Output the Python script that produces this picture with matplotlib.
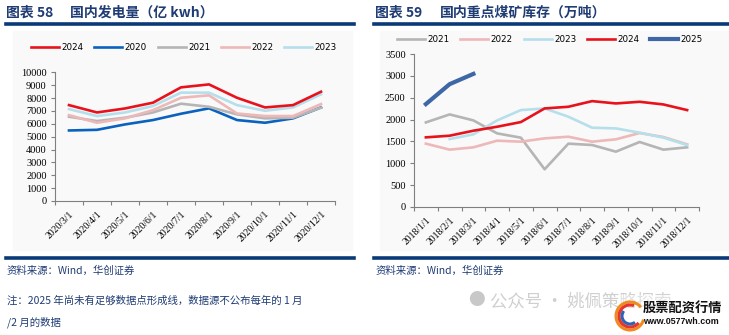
import numpy as np
import matplotlib.pyplot as plt
from matplotlib.patches import Rectangle, Arc
from matplotlib.lines import Line2D

plt.rcParams['font.family'] = ['Noto Sans CJK SC', 'DejaVu Sans']

# 国内发电量（亿 kwh）
power_months = ['2020/3/1', '2020/4/1', '2020/5/1', '2020/6/1', '2020/7/1',
                '2020/8/1', '2020/9/1', '2020/10/1', '2020/11/1', '2020/12/1']
power_2024 = [7450, 6880, 7190, 7640, 8830, 9060, 8020, 7270, 7450, 8490]
power_2020 = [5480, 5530, 5950, 6290, 6780, 7200, 6290, 6080, 6420, 7270]
power_2021 = [6550, 6210, 6470, 6880, 7560, 7320, 6730, 6420, 6470, 7250]
power_2022 = [6670, 6080, 6420, 7060, 8020, 8210, 6800, 6600, 6600, 7530]
power_2023 = [7140, 6600, 6880, 7380, 8420, 8420, 7450, 7010, 7270, 8290]

# 国内重点煤矿库存（万吨）
coal_months = ['2018/1/1', '2018/2/1', '2018/3/1', '2018/4/1', '2018/5/1', '2018/6/1',
               '2018/7/1', '2018/8/1', '2018/9/1', '2018/10/1', '2018/11/1', '2018/12/1']
coal_2021 = [1935, 2118, 1981, 1684, 1586, 863, 1449, 1418, 1266, 1487, 1312, 1365]
coal_2022 = [1449, 1312, 1365, 1517, 1494, 1570, 1608, 1494, 1548, 1692, 1601, 1433]
coal_2023 = [np.nan, 1555, 1662, 1981, 2217, 2255, 2065, 1814, 1798, 1700, 1586, 1418]
coal_2024 = [1593, 1631, 1745, 1836, 1943, 2255, 2293, 2422, 2369, 2407, 2346, 2217]
coal_2025 = [2354, 2810, 3045]

RED = '#E8121C'
BLUE = '#0A62BE'
GREY = '#B5B5B5'
PINK = '#EDB8B8'
LBLUE = '#B6DFEC'
DBLUE = '#3E67A6'
NAVY = '#0B3A78'
TXT = '#1F3C74'

W, H = 729, 335
fig = plt.figure(figsize=(W / 100, H / 100), dpi=100)


def px_axes(x0, y0, x1, y1):
    # box given in pixels, y measured from the top
    return fig.add_axes([x0 / W, 1 - y1 / H, (x1 - x0) / W, (y1 - y0) / H])


def hline(x0, x1, y, lw=2.6):
    fig.add_artist(Line2D([x0 / W, x1 / W], [1 - y / H, 1 - y / H],
                          color=NAVY, lw=lw, transform=fig.transFigure))


def style_axes(ax, n, labels, ymax, step):
    ax.set_facecolor('none')
    for s in ['top', 'right']:
        ax.spines[s].set_visible(False)
    for s in ['left', 'bottom']:
        ax.spines[s].set_color('#7F7F7F')
        ax.spines[s].set_linewidth(0.8)
    ax.set_xlim(-0.5, n - 0.5)
    ax.set_ylim(0, ymax)
    ax.set_yticks(np.arange(0, ymax + 1, step))
    ax.set_xticks(np.arange(n))
    ax.set_xticklabels(labels, rotation=45, ha='right', rotation_mode='anchor',
                       fontsize=7, family='Liberation Serif')
    ax.set_xticks(np.arange(n + 1) - 0.5, minor=True)
    ax.tick_params(axis='x', which='major', length=0, pad=6)
    ax.tick_params(axis='x', which='minor', length=3, color='#7F7F7F', width=0.8)
    ax.tick_params(axis='y', length=3, color='#7F7F7F', width=0.8, pad=3)
    for t in ax.get_yticklabels():
        t.set_family('Liberation Serif')
        t.set_fontsize(7.5)


def legend(handles, labels, cx, cy):
    fig.legend(handles, labels, ncol=5, frameon=False, loc='center',
               bbox_to_anchor=(cx / W, 1 - cy / H), handlelength=3.2,
               columnspacing=1.25, handletextpad=0.25,
               prop={'family': 'DejaVu Sans', 'size': 6.3})


# faint panel backgrounds
for x0, x1 in [(13, 352), (380, 729)]:
    fig.add_artist(Rectangle((x0 / W, 1 - 250 / H), (x1 - x0) / W, 219 / H,
                             transform=fig.transFigure, color='#F9F9F9', zorder=0))

# ---- left chart ----
ax1 = px_axes(55, 72.3, 335, 201)
x1 = np.arange(len(power_months))
lw = 1.9
ax1.plot(x1, power_2020, color=BLUE, lw=lw, label='2020', zorder=3)
ax1.plot(x1, power_2021, color=GREY, lw=lw, label='2021', zorder=3)
ax1.plot(x1, power_2022, color=PINK, lw=lw, label='2022', zorder=3)
ax1.plot(x1, power_2023, color=LBLUE, lw=lw, label='2023', zorder=3)
ax1.plot(x1, power_2024, color=RED, lw=lw, label='2024', zorder=4)
style_axes(ax1, len(power_months), power_months, 10000, 1000)
h, l = ax1.get_legend_handles_labels()
order = [4, 0, 1, 2, 3]
legend([h[i] for i in order], [l[i] for i in order], 184, 48)

# ---- right chart ----
ax2 = px_axes(414, 54, 699, 207)
x2 = np.arange(len(coal_months))
ax2.plot(x2, coal_2021, color=GREY, lw=lw, label='2021', zorder=3)
ax2.plot(x2, coal_2022, color=PINK, lw=lw, label='2022', zorder=3)
ax2.plot(x2, coal_2023, color=LBLUE, lw=lw, label='2023', zorder=3)
ax2.plot(x2, coal_2024, color=RED, lw=lw, label='2024', zorder=4)
ax2.plot(x2[:len(coal_2025)], coal_2025, color=DBLUE, lw=3.0, label='2025', zorder=5)
style_axes(ax2, len(coal_months), coal_months, 3500, 500)
legend(*ax2.get_legend_handles_labels(), 550, 40)

# ---- titles, rules and sources ----
title_kw = dict(fontsize=10, fontweight='bold', color=TXT, va='center')
fig.text(6 / W, 1 - 13 / H, '图表 58', **title_kw)
fig.text(70 / W, 1 - 13 / H, '国内发电量（亿 kwh）', **title_kw)
fig.text(375 / W, 1 - 13 / H, '图表 59', **title_kw)
fig.text(440 / W, 1 - 13 / H, '国内重点煤矿库存（万吨）', **title_kw)
hline(6, 354, 24)
hline(374, 729, 24)
hline(6, 354, 258)
hline(374, 729, 258)

src_kw = dict(fontsize=7.5, color=TXT, va='center', style='italic')
fig.text(7 / W, 1 - 271 / H, '资料来源：Wind，华创证券', **src_kw)
fig.text(376 / W, 1 - 271 / H, '资料来源：Wind，华创证券', **src_kw)
fig.text(7 / W, 1 - 301 / H, '注：2025 年尚未有足够数据点形成线，数据源不公布每年的 1 月',
         **src_kw)
fig.text(7 / W, 1 - 322 / H, '/2 月的数据', **src_kw)

# watermark
fig.text(468 / W, 1 - 301 / H, '●', fontsize=12, color='#C8C8C8', va='center')
fig.text(490 / W, 1 - 301 / H, '公众号 · 姚佩策略探索', fontsize=12.5,
         color='#C4C4C4', va='center', alpha=0.8)
fig.add_artist(Rectangle((618 / W, 0), 111 / W, 40 / H, transform=fig.transFigure,
                         color='white', alpha=0.35, zorder=5))
for r, c, th in [(14, '#F08A1E', (60, 330)), (11, '#E8352A', (80, 300)),
                 (8, '#2E63B5', (120, 290))]:
    fig.add_artist(Arc((630 / W, 1 - 316 / H), 2 * r / W, 2 * r / H,
                       theta1=th[0], theta2=th[1], color=c, lw=2.2,
                       transform=fig.transFigure, zorder=6))
fig.text(643 / W, 1 - 308 / H, '股票配资行情', fontsize=9.5, fontweight='bold',
         color='#111111', va='center', zorder=7)
fig.text(643 / W, 1 - 322 / H, 'www.0577wh.com', fontsize=6.4, fontweight='bold',
         color='#111111', va='center', family='Liberation Sans', zorder=7)

fig.savefig('out.png', dpi=100)
